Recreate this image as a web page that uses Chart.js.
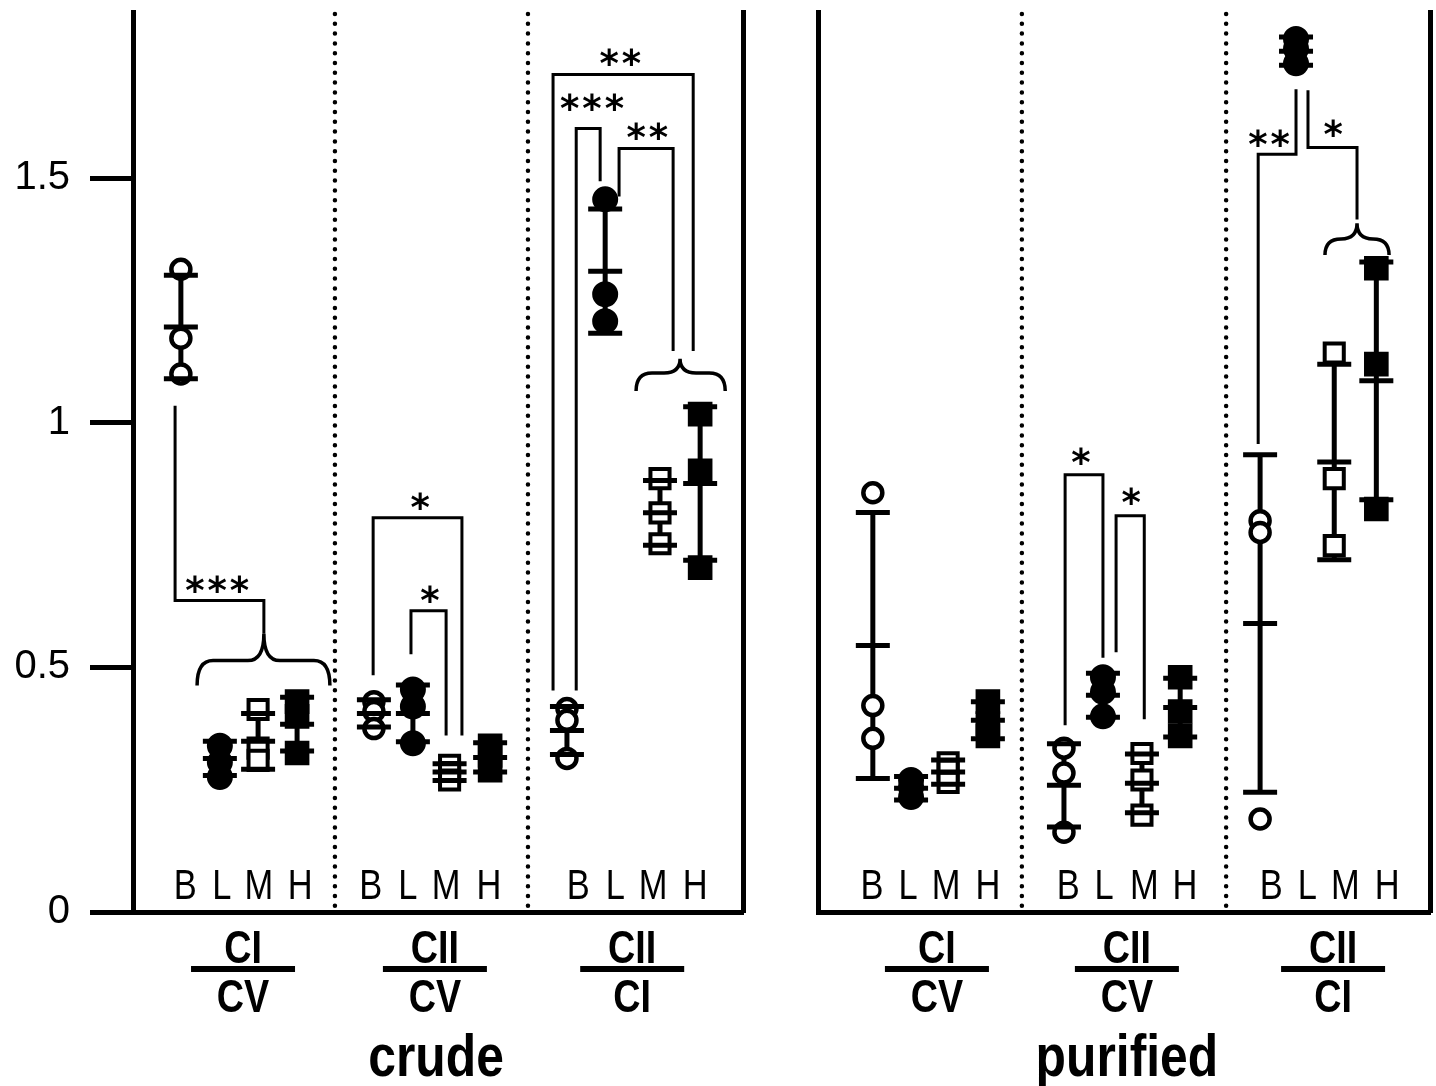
<!DOCTYPE html>
<html lang="en">
<head>
<meta charset="UTF-8">
<title>Complex ratios, crude and purified</title>
<script src="https://cdn.jsdelivr.net/npm/chart.js@4.4.1/dist/chart.umd.min.js"></script>
<style>
  body { margin: 0; background: #fff; }
  #wrap { position: relative; width: 1436px; height: 1086px; }
  #crude { position: absolute; left: 0; top: 0; }
  #purified { position: absolute; left: 780px; top: 0; }
</style>
</head>
<body>
<div id="wrap">
  <canvas id="crude" width="780" height="1086"></canvas>
  <canvas id="purified" width="656" height="1086"></canvas>
</div>
<script>
const conditions = ['B', 'L', 'M', 'H'];
const ratioTop = ['CI', 'CII', 'CII'];
const ratioBottom = ['CV', 'CV', 'CI'];
const yTicks = [0, 0.5, 1, 1.5];
const yTickLabels = ['0', '0.5', '1', '1.5'];
const yMax = 1.84;

// replicates per condition: [ratio][replicate]
const crudeB = [[1.314, 1.173, 1.10], [0.43, 0.41, 0.375], [0.416, 0.392, 0.314]];
const crudeL = [[0.34, 0.306, 0.276], [0.455, 0.42, 0.345], [1.457, 1.263, 1.208]];
const crudeM = [[0.414, 0.335, 0.31], [0.30, 0.285, 0.27], [0.886, 0.816, 0.753]];
const crudeH = [[0.43, 0.40, 0.325], [0.34, 0.32, 0.29], [1.018, 0.902, 0.704]];
// mean and SD: [condition][ratio]
const crudeMean = [[1.196, 0.406, 0.371], [0.314, 0.406, 1.31], [0.349, 0.286, 0.816], [0.384, 0.316, 0.876]];
const crudeSD = [[0.106, 0.028, 0.049], [0.035, 0.058, 0.127], [0.057, 0.017, 0.066], [0.055, 0.030, 0.157]];

const purifiedB = [[0.857, 0.422, 0.355], [0.335, 0.284, 0.163], [0.80, 0.776, 0.19]];
const purifiedL = [[0.27, 0.255, 0.235], [0.48, 0.45, 0.40], [1.785, 1.765, 1.735]];
const purifiedM = [[0.305, 0.29, 0.265], [0.324, 0.27, 0.198], [1.143, 0.886, 0.749]];
const purifiedH = [[0.43, 0.385, 0.36], [0.48, 0.41, 0.36], [1.316, 1.12, 0.824]];
const purifiedMean = [[0.545, 0.259, 0.59], [0.253, 0.443, 1.76], [0.286, 0.263, 0.92], [0.392, 0.418, 1.086]];
const purifiedSD = [[0.272, 0.085, 0.345], [0.024, 0.045, 0.029], [0.025, 0.06, 0.2], [0.038, 0.06, 0.243]];

// slot positions on the x axis: [ratio][condition]
const crudeX = [[1.24, 2.25, 3.24, 4.25], [6.24, 7.25, 8.2, 9.25], [11.24, 12.23, 13.65, 14.69]];
const crudeLetterX = [[1.35, 2.3, 3.26, 4.33], [6.16, 7.12, 8.11, 9.22], [11.53, 12.49, 13.47, 14.56]];
const crudeRatioX = [2.85, 7.82, 12.93];
const purifiedX = [[1.42, 2.41, 3.37, 4.4], [6.37, 7.38, 8.39, 9.38], [11.45, 12.38, 13.37, 14.46]];
const purifiedLetterX = [[1.4, 2.33, 3.32, 4.4], [6.48, 7.41, 8.45, 9.5], [11.74, 12.67, 13.66, 14.74]];
const purifiedRatioX = [3.08, 8.0, 13.34];

// significance brackets (x slot, y value)
const crudeBrackets = [
  { path: [[1.09, 1.035], [1.09, 0.637], [3.39, 0.637], [3.39, 0.569]], label: '***', at: [2.18, 0.671] },
  { path: [[6.22, 0.484], [6.22, 0.806], [8.52, 0.806], [8.52, 0.361]], label: '*', at: [7.44, 0.84] },
  { path: [[7.2, 0.527], [7.2, 0.616], [8.11, 0.616], [8.11, 0.361]], label: '*', at: [7.69, 0.651] },
  { path: [[10.88, 0.453], [10.88, 1.712], [14.51, 1.712], [14.51, 1.147]], label: '**', at: [12.62, 1.749] },
  { path: [[11.48, 0.453], [11.48, 1.602], [12.1, 1.602], [12.1, 1.494]], label: '***', at: [11.89, 1.657] },
  { path: [[12.59, 1.463], [12.59, 1.561], [13.99, 1.561], [13.99, 1.147]], label: '**', at: [13.32, 1.596] }
];
const crudeBraces = [
  { from: 1.66, to: 5.1, tip: 3.39, top: 0.569, arm: 0.514, end: 0.463 },
  { from: 13.03, to: 15.34, tip: 14.17, top: 1.131, arm: 1.102, end: 1.065 }
];
const purifiedBrackets = [
  { path: [[6.4, 0.382], [6.4, 0.894], [7.38, 0.894], [7.38, 0.52]], label: '*', at: [6.81, 0.933] },
  { path: [[7.72, 0.531], [7.72, 0.81], [8.45, 0.81], [8.45, 0.394]], label: '*', at: [8.11, 0.851] },
  { path: [[11.4, 0.957], [11.4, 1.549], [12.38, 1.549], [12.38, 1.682]], label: '**', at: [11.68, 1.582] },
  { path: [[12.69, 1.68], [12.69, 1.563], [13.96, 1.563], [13.96, 1.416]], label: '*', at: [13.34, 1.602] }
];
const purifiedBraces = [
  { from: 13.13, to: 14.79, tip: 13.96, top: 1.408, arm: 1.376, end: 1.343 }
];

const SANS = '"Liberation Sans", Arial, sans-serif';
const STAR = '"DejaVu Sans", sans-serif';

const markerStyles = [
  { pointStyle: 'circle', pointRadius: 9.5, pointBorderWidth: 4.5, pointBackgroundColor: '#fff' },
  { pointStyle: 'circle', pointRadius: 12, pointBorderWidth: 2, pointBackgroundColor: '#000' },
  { pointStyle: 'rect', pointRadius: 13.5, pointBorderWidth: 4, pointBackgroundColor: '#fff' },
  { pointStyle: 'rect', pointRadius: 16, pointBorderWidth: 2, pointBackgroundColor: '#000' }
];

function buildDatasets(values, means, sds, xs) {
  const sets = [];
  const caps = [];
  for (let r = 0; r < 3; r++) {
    for (let c = 0; c < 4; c++) {
      const m = means[c][r], s = sds[c][r], x = xs[r][c];
      sets.push({
        data: [{ x: x, y: m - s }, { x: x, y: m + s }],
        showLine: true, borderColor: '#000', borderWidth: 5, pointRadius: 0, order: 3
      });
      caps.push({ x: x, y: m - s }, { x: x, y: m }, { x: x, y: m + s });
    }
  }
  values.forEach((cond, c) => {
    const data = [];
    cond.forEach((reps, r) => reps.forEach(v => data.push({ x: xs[r][c], y: v })));
    sets.push(Object.assign({ label: conditions[c], data: data, pointBorderColor: '#000', order: 2 }, markerStyles[c]));
  });
  sets.push({
    data: caps, pointStyle: 'line', pointRadius: 17, pointBorderWidth: 5,
    pointBorderColor: '#000', order: 1
  });
  return sets;
}

// narrow text: the condensed face is not installed, so squeeze horizontally
function narrowText(ctx, text, x, y, k) {
  ctx.save();
  ctx.translate(x, y);
  ctx.scale(k, 1);
  ctx.fillText(text, 0, 0);
  ctx.restore();
}

function overlay(panel) {
  return {
    id: 'overlay',
    beforeDatasetsDraw(chart) {
      const { ctx, chartArea } = chart;
      const x = chart.scales.x, y = chart.scales.y;
      ctx.save();
      ctx.strokeStyle = '#000';
      // dotted separators
      ctx.lineWidth = 4.5;
      ctx.lineCap = 'round';
      ctx.setLineDash([0, 9.8]);
      panel.separators.forEach(s => {
        const px = x.getPixelForValue(s);
        ctx.beginPath();
        ctx.moveTo(px, chartArea.top + 2);
        ctx.lineTo(px, chartArea.bottom - 2);
        ctx.stroke();
      });
      ctx.setLineDash([]);
      ctx.lineCap = 'butt';
      ctx.lineWidth = 3;
      panel.brackets.forEach(b => {
        ctx.beginPath();
        b.path.forEach(([vx, vy], i) => {
          const px = x.getPixelForValue(vx), py = y.getPixelForValue(vy);
          if (i) ctx.lineTo(px, py); else ctx.moveTo(px, py);
        });
        ctx.stroke();
      });
      ctx.lineWidth = 3.5;
      panel.braces.forEach(b => {
        const x1 = x.getPixelForValue(b.from), x2 = x.getPixelForValue(b.to), xt = x.getPixelForValue(b.tip);
        const yt = y.getPixelForValue(b.top), ya = y.getPixelForValue(b.arm), ye = y.getPixelForValue(b.end);
        const r = 16;
        ctx.beginPath();
        ctx.moveTo(x1, ye);
        ctx.quadraticCurveTo(x1, ya, x1 + r, ya);
        ctx.lineTo(xt - r, ya);
        ctx.quadraticCurveTo(xt, ya, xt, yt);
        ctx.quadraticCurveTo(xt, ya, xt + r, ya);
        ctx.lineTo(x2 - r, ya);
        ctx.quadraticCurveTo(x2, ya, x2, ye);
        ctx.stroke();
      });
      // stars, vertically centred on their anchor
      ctx.fillStyle = '#000';
      ctx.font = 'bold 37px ' + STAR;
      ctx.letterSpacing = '3px';
      ctx.textAlign = 'center';
      ctx.textBaseline = 'alphabetic';
      const m = ctx.measureText('*');
      const shift = (m.actualBoundingBoxAscent - m.actualBoundingBoxDescent) / 2;
      panel.brackets.forEach(b => {
        ctx.fillText(b.label, x.getPixelForValue(b.at[0]) + 1.5, y.getPixelForValue(b.at[1]) + shift);
      });
      ctx.letterSpacing = '0px';
      ctx.restore();
    },
    afterDraw(chart) {
      const { ctx, chartArea } = chart;
      const x = chart.scales.x;
      const base = chartArea.bottom;
      ctx.save();
      ctx.fillStyle = '#000';
      ctx.textAlign = 'center';
      ctx.textBaseline = 'alphabetic';
      ctx.font = '42px ' + SANS;
      panel.letterX.forEach(row => row.forEach((lx, c) => {
        narrowText(ctx, conditions[c], x.getPixelForValue(lx), base - 13, 0.82);
      }));
      ctx.font = 'bold 46px ' + SANS;
      panel.ratioX.forEach((rx, r) => {
        const px = x.getPixelForValue(rx);
        narrowText(ctx, ratioTop[r], px, base + 51, 0.82);
        ctx.fillRect(px - 52, base + 54, 104, 6);
        narrowText(ctx, ratioBottom[r], px, base + 100, 0.82);
      });
      ctx.font = 'bold 60px ' + SANS;
      narrowText(ctx, panel.title, x.getPixelForValue(panel.titleX), base + 164, 0.83);
      ctx.restore();
    }
  };
}

function makePanel(id, panel) {
  const yAxis = {
    type: 'linear', position: 'left', min: 0, max: yMax,
    afterBuildTicks: s => { s.ticks = yTicks.map(v => ({ value: v })); },
    border: { display: true, width: 5, color: '#000' },
    afterFit: s => { s.width = panel.leftWidth; s.paddingTop = 0; s.paddingBottom = 0; }
  };
  if (panel.showTicks) {
    yAxis.ticks = {
      display: true, color: '#000', padding: 20, font: { family: SANS, size: 40 },
      callback: v => yTickLabels[yTicks.indexOf(v)]
    };
    yAxis.grid = { display: true, drawOnChartArea: false, drawTicks: true, tickLength: 43, tickWidth: 5, tickColor: '#000' };
  } else {
    yAxis.ticks = { display: false };
    yAxis.grid = { display: false };
  }
  return new Chart(document.getElementById(id), {
    type: 'scatter',
    data: { datasets: buildDatasets(panel.values, panel.means, panel.sds, panel.xs) },
    options: {
      responsive: false,
      animation: false,
      events: [],
      layout: { padding: { top: 12, left: 0, right: 0, bottom: 0 }, autoPadding: false },
      plugins: { legend: { display: false }, tooltip: { enabled: false } },
      scales: {
        x: {
          type: 'linear', min: 0, max: panel.xMax,
          ticks: { display: false }, grid: { display: false },
          border: { display: true, width: 5, color: '#000' },
          afterFit: s => { s.height = 1086 - 12 - 900; s.paddingLeft = 0; s.paddingRight = 0; }
        },
        y: yAxis,
        y2: {
          type: 'linear', position: 'right', min: 0, max: yMax,
          ticks: { display: false }, grid: { display: false },
          border: { display: true, width: 5, color: '#000' },
          afterFit: s => { s.width = panel.rightWidth; s.paddingTop = 0; s.paddingBottom = 0; }
        }
      }
    },
    plugins: [overlay(panel)]
  });
}

makePanel('crude', {
  title: 'crude', titleX: 7.85, xMax: 15.8, leftWidth: 133, rightWidth: 37, showTicks: true,
  values: [crudeB, crudeL, crudeM, crudeH], means: crudeMean, sds: crudeSD, xs: crudeX,
  letterX: crudeLetterX, ratioX: crudeRatioX, separators: [5.23, 10.23],
  brackets: crudeBrackets, braces: crudeBraces
});
makePanel('purified', {
  title: 'purified', titleX: 8.0, xMax: 15.85, leftWidth: 38, rightWidth: 6, showTicks: false,
  values: [purifiedB, purifiedL, purifiedM, purifiedH], means: purifiedMean, sds: purifiedSD, xs: purifiedX,
  letterX: purifiedLetterX, ratioX: purifiedRatioX, separators: [5.28, 10.57],
  brackets: purifiedBrackets, braces: purifiedBraces
});
</script>
</body>
</html>
